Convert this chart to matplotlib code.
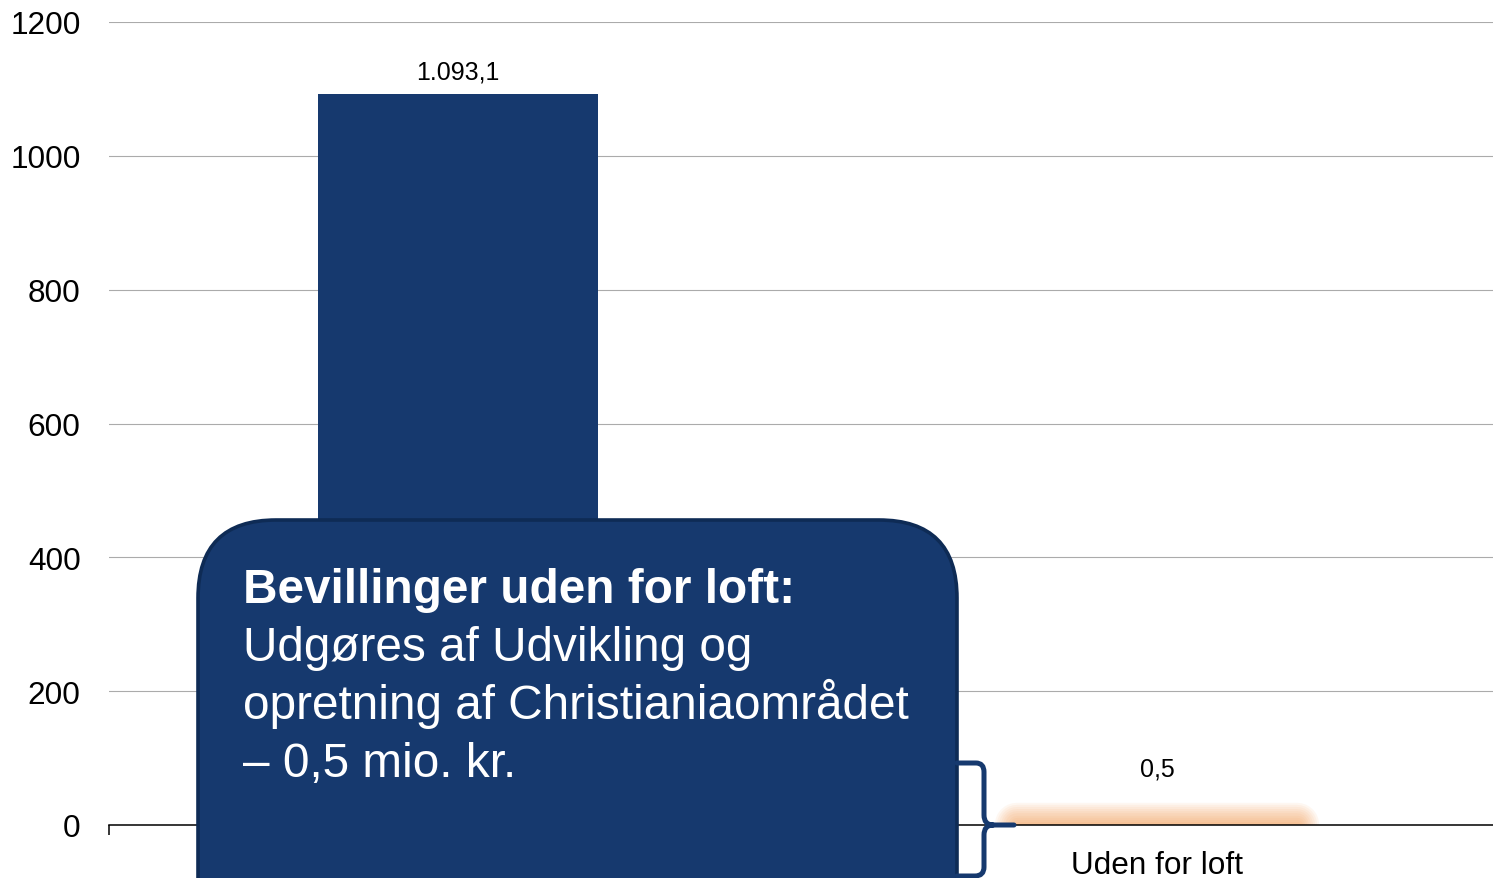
import matplotlib
matplotlib.use("Agg")
import matplotlib.pyplot as plt
from matplotlib.patches import FancyBboxPatch, PathPatch
from matplotlib.path import Path
from matplotlib.transforms import Affine2D
import matplotlib.patheffects as pe

plt.rcParams['font.family'] = ['Liberation Sans', 'DejaVu Sans']

# ---- data ----
categories = ["", "Uden for loft"]
values = [1093.1, 0.5]
value_labels = ["1.093,1", "0,5"]
yticks = [0, 200, 400, 600, 800, 1000, 1200]
callout_title = "Bevillinger uden for loft:"
callout_lines = ["Udgøres af Udvikling og",
                 "opretning af Christianiaområdet",
                 "– 0,5 mio. kr."]

W, H = 1493, 879
fig = plt.figure(figsize=(W / 100, H / 100), dpi=100)
fig.patch.set_facecolor('white')

# pixel (top-left origin) transform
PX = Affine2D().scale(1 / 100, -1 / 100).translate(0, H / 100) + fig.dpi_scale_trans

ax_left, ax_right = 108.5, 1506.5
ax_top, ax_zero = 23, 826
ax = fig.add_axes([ax_left / W, (H - ax_zero) / H,
                   (ax_right - ax_left) / W, (ax_zero - ax_top) / H])

navy = '#16396E'
x = list(range(len(categories)))
bars = ax.bar(x, values, width=0.4, color=[navy, '#FBC9A0'], zorder=2)

# soft orange glow on the small bar
glow = [pe.Stroke(linewidth=w, foreground='#F79646', alpha=0.075, joinstyle='round',
                  capstyle='round')
        for w in (32, 29, 26, 23, 20, 17, 14, 11, 8, 5)]
bars[1].set_path_effects(glow + [pe.Normal()])
bars[1].set_edgecolor('#F9B47C')
bars[1].set_linewidth(1)

ax.set_xlim(-0.5, len(categories) - 0.5)
ax.set_ylim(0, 1200)
ax.set_yticks(yticks)
ax.set_yticklabels([str(t) for t in yticks], fontsize=22.7)
ax.set_xticks(x)
ax.set_xticklabels(categories, fontsize=22.7)
ax.set_xticks([i - 0.5 for i in range(len(categories) + 1)], minor=True)
ax.tick_params(axis='y', length=0, pad=20)
ax.tick_params(axis='x', which='major', length=0, pad=18)
ax.tick_params(axis='x', which='minor', length=7.2, width=1.1, color='black', direction='out')

ax.grid(axis='y', color='#ABABAB', linewidth=0.8)
ax.set_axisbelow(True)
for s in ('left', 'right', 'top'):
    ax.spines[s].set_visible(False)
ax.spines['bottom'].set_color('black')
ax.spines['bottom'].set_linewidth(1.1)
ax.spines['bottom'].set_zorder(3)

offsets = [7, 32]
for xi, v, lab, off in zip(x, values, value_labels, offsets):
    ax.annotate(lab, (xi, v), xytext=(0, off), textcoords='offset points',
                ha='center', va='bottom', fontsize=18, color='black')

# ---- callout box ----
box = FancyBboxPatch((198, 521), 759, 520,
                     boxstyle="round,pad=0,rounding_size=78",
                     transform=PX, facecolor=navy, edgecolor='#0E2B55',
                     linewidth=2.6, zorder=5)
fig.patches.append(box)
box.set_figure(fig)

fig.text(243, 603, callout_title, transform=PX, fontsize=34.4, fontweight='bold',
         color='white', ha='left', va='baseline', zorder=6)
for i, line in enumerate(callout_lines):
    fig.text(243, 661 + 58 * i, line, transform=PX, fontsize=34.4,
             color='white', ha='left', va='baseline', zorder=6)

# ---- brace ----
verts = [(957, 764), (976, 764), (984, 764), (984, 773), (984, 816),
         (984, 826), (993, 826), (1014, 826),
         (993, 826), (984, 826), (984, 836), (984, 868), (984, 877), (975, 877), (957, 877)]
codes = [Path.MOVETO, Path.LINETO, Path.CURVE3, Path.CURVE3, Path.LINETO,
         Path.CURVE3, Path.CURVE3, Path.LINETO,
         Path.MOVETO, Path.CURVE3, Path.CURVE3, Path.LINETO, Path.CURVE3, Path.CURVE3, Path.LINETO]
brace = PathPatch(Path(verts, codes), transform=PX, facecolor='none', edgecolor=navy,
                  linewidth=3.6, capstyle='round', joinstyle='round', zorder=6)
fig.patches.append(brace)
brace.set_figure(fig)

fig.savefig('out.png', dpi=100, facecolor='white')
